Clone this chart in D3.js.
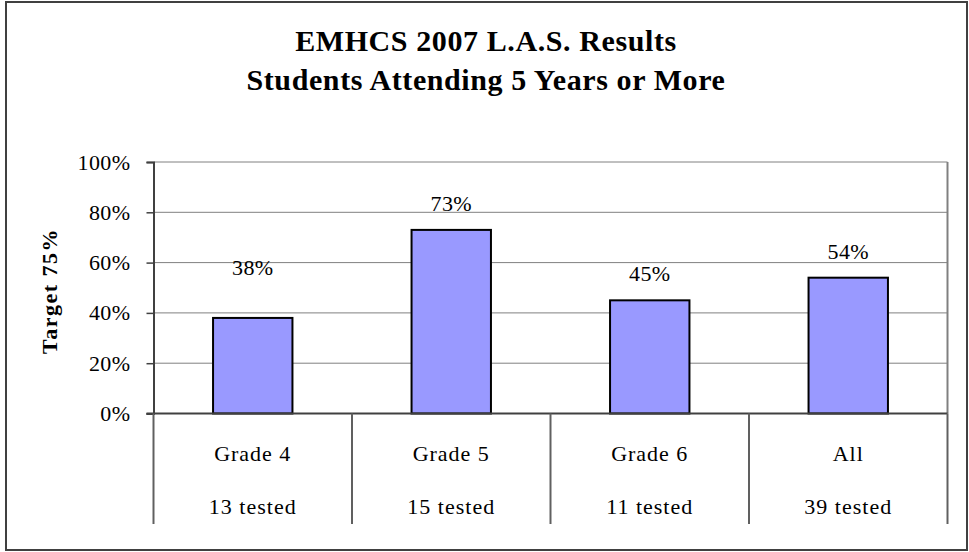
<!DOCTYPE html>
<html>
<head>
<meta charset="utf-8">
<script src="https://cdn.jsdelivr.net/npm/d3@7"></script>
<style>
  body { margin: 0; background: #fff; }
  text { font-family: "Liberation Serif", "Times New Roman", serif; fill: #000; }
</style>
</head>
<body>
<div id="app"></div>
<script>
const categories = ['Grade 4', 'Grade 5', 'Grade 6', 'All'];
const testedLabels = ['13 tested', '15 tested', '11 tested', '39 tested'];
const values = [0.38, 0.73, 0.45, 0.54];
const yTicks = [0, 0.2, 0.4, 0.6, 0.8, 1.0];
const titleLines = ['EMHCS 2007 L.A.S. Results', 'Students Attending 5 Years or More'];
const yTitle = 'Target 75%';

const width = 969, height = 552;
const plot = { left: 153.5, right: 947.5, top: 162, bottom: 413.5 };
const pct = d3.format('.0%');

const svg = d3.select('#app').append('svg')
  .attr('width', width)
  .attr('height', height);

// outer chart border
svg.append('rect')
  .attr('x', 6).attr('y', 2)
  .attr('width', 961).attr('height', 548)
  .attr('fill', '#fff')
  .attr('stroke', '#404040')
  .attr('stroke-width', 2);

const x = d3.scaleBand()
  .domain(categories)
  .range([plot.left, plot.right])
  .paddingInner(0.6)
  .paddingOuter(0.3);

const xCat = d3.scaleBand()
  .domain(categories)
  .range([plot.left, plot.right]);

const y = d3.scaleLinear()
  .domain([0, 1])
  .range([plot.bottom, plot.top]);

// gridlines
svg.append('g')
  .selectAll('line')
  .data(yTicks.slice(1))
  .join('line')
  .attr('x1', plot.left).attr('x2', plot.right)
  .attr('y1', d => y(d)).attr('y2', d => y(d))
  .attr('stroke', '#808080')
  .attr('stroke-width', 1);

// plot area right border
svg.append('line')
  .attr('x1', plot.right).attr('x2', plot.right)
  .attr('y1', plot.top).attr('y2', plot.bottom)
  .attr('stroke', '#808080')
  .attr('stroke-width', 2);

// y axis
const yAxis = svg.append('g')
  .attr('transform', `translate(${plot.left},0)`)
  .call(d3.axisLeft(y).tickValues(yTicks).tickFormat(pct).tickSize(7).tickPadding(16));
yAxis.select('.domain').attr('stroke', '#404040').attr('stroke-width', 2);
yAxis.selectAll('.tick line').attr('stroke', '#404040').attr('stroke-width', 1.5);
yAxis.selectAll('.tick text')
  .attr('font-size', 22)
  .attr('letter-spacing', 0.4)
  .attr('font-family', '"Liberation Serif", serif')
  .attr('fill', '#000');

// bars
svg.append('g')
  .selectAll('rect')
  .data(values)
  .join('rect')
  .attr('x', (d, i) => x(categories[i]))
  .attr('y', d => y(d))
  .attr('width', x.bandwidth())
  .attr('height', d => y(0) - y(d))
  .attr('fill', '#9999FF')
  .attr('stroke', '#000')
  .attr('stroke-width', 2);

// value labels (the Grade 4 label sits higher in the original)
const labelLift = i => (i === 0 ? 43 : 19);
svg.append('g')
  .selectAll('text')
  .data(values)
  .join('text')
  .attr('x', (d, i) => xCat(categories[i]) + xCat.bandwidth() / 2)
  .attr('y', (d, i) => y(d) - labelLift(i))
  .attr('text-anchor', 'middle')
  .attr('font-size', 22)
  .attr('letter-spacing', 0.4)
  .text(d => pct(d));

// zero line
svg.append('line')
  .attr('x1', plot.left - 7).attr('x2', plot.right)
  .attr('y1', plot.bottom).attr('y2', plot.bottom)
  .attr('stroke', '#404040')
  .attr('stroke-width', 2);

// category separators
const seps = categories.map(c => xCat(c)).concat([plot.right]);
svg.append('g')
  .selectAll('line')
  .data(seps)
  .join('line')
  .attr('x1', d => d).attr('x2', d => d)
  .attr('y1', plot.bottom).attr('y2', 524)
  .attr('stroke', '#606060')
  .attr('stroke-width', 2);

// category labels, two rows
const catG = svg.append('g');
catG.selectAll('text.cat')
  .data(categories)
  .join('text')
  .attr('class', 'cat')
  .attr('x', d => xCat(d) + xCat.bandwidth() / 2)
  .attr('y', 461)
  .attr('text-anchor', 'middle')
  .attr('font-size', 22)
  .attr('letter-spacing', 1)
  .text(d => d);
catG.selectAll('text.tested')
  .data(testedLabels)
  .join('text')
  .attr('class', 'tested')
  .attr('x', (d, i) => xCat(categories[i]) + xCat.bandwidth() / 2)
  .attr('y', 514)
  .attr('text-anchor', 'middle')
  .attr('font-size', 22)
  .attr('letter-spacing', 1)
  .text(d => d);

// y title
svg.append('text')
  .attr('transform', 'translate(57,291) rotate(-90)')
  .attr('text-anchor', 'middle')
  .attr('font-size', 22)
  .attr('font-weight', 'bold')
  .attr('letter-spacing', 1.5)
  .text(yTitle);

// chart title
svg.append('g')
  .selectAll('text')
  .data(titleLines)
  .join('text')
  .attr('x', 486)
  .attr('y', (d, i) => 51 + i * 39)
  .attr('text-anchor', 'middle')
  .attr('font-size', 30)
  .attr('font-weight', 'bold')
  .attr('letter-spacing', 0.6)
  .text(d => d);
</script>
</body>
</html>
